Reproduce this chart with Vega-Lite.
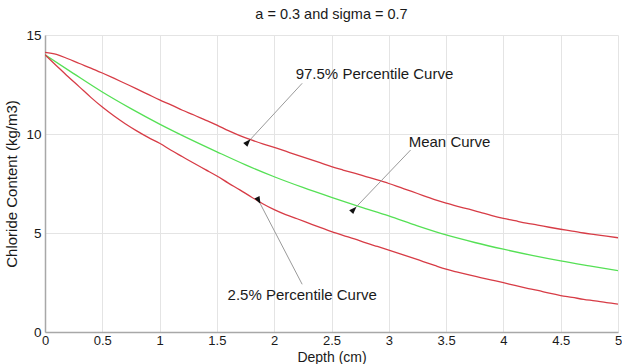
{
  "$schema": "https://vega.github.io/schema/vega-lite/v6.json",
  "width": 573,
  "height": 297,
  "autosize": {"type": "none"},
  "padding": {"left": 45, "top": 35, "right": 4, "bottom": 32},
  "background": "white",
  "config": {
    "view": {"stroke": null},
    "font": "Liberation Sans",
    "axis": {"labelFont": "Liberation Sans", "titleFont": "Liberation Sans", "labelColor": "#1a1a1a", "titleColor": "#1a1a1a", "titleFontWeight": "normal", "labelFontSize": 14, "titleFontSize": 15, "gridColor": "#e4e4e4", "gridWidth": 1, "domainColor": "#a8a8a8", "domainWidth": 1.5, "ticks": false}
  },
  "title": {"text": "a = 0.3 and sigma = 0.7", "font": "Liberation Sans", "fontSize": 14.5, "fontWeight": "normal", "color": "#1a1a1a", "offset": 6},
  "datasets": {
    "curves": [
      {"depth": 0, "value": 14.12, "series": "upper"},
      {"depth": 0.1, "value": 14.02, "series": "upper"},
      {"depth": 0.2, "value": 13.8, "series": "upper"},
      {"depth": 0.3, "value": 13.56, "series": "upper"},
      {"depth": 0.4, "value": 13.33, "series": "upper"},
      {"depth": 0.5, "value": 13.08, "series": "upper"},
      {"depth": 0.6, "value": 12.82, "series": "upper"},
      {"depth": 0.7, "value": 12.55, "series": "upper"},
      {"depth": 0.8, "value": 12.28, "series": "upper"},
      {"depth": 0.9, "value": 12.0, "series": "upper"},
      {"depth": 1.0, "value": 11.72, "series": "upper"},
      {"depth": 1.1, "value": 11.47, "series": "upper"},
      {"depth": 1.2, "value": 11.2, "series": "upper"},
      {"depth": 1.3, "value": 10.96, "series": "upper"},
      {"depth": 1.4, "value": 10.7, "series": "upper"},
      {"depth": 1.5, "value": 10.45, "series": "upper"},
      {"depth": 1.6, "value": 10.17, "series": "upper"},
      {"depth": 1.7, "value": 9.92, "series": "upper"},
      {"depth": 1.8, "value": 9.7, "series": "upper"},
      {"depth": 1.9, "value": 9.5, "series": "upper"},
      {"depth": 2.0, "value": 9.33, "series": "upper"},
      {"depth": 2.1, "value": 9.13, "series": "upper"},
      {"depth": 2.2, "value": 8.93, "series": "upper"},
      {"depth": 2.3, "value": 8.74, "series": "upper"},
      {"depth": 2.4, "value": 8.55, "series": "upper"},
      {"depth": 2.5, "value": 8.35, "series": "upper"},
      {"depth": 2.6, "value": 8.18, "series": "upper"},
      {"depth": 2.7, "value": 8.02, "series": "upper"},
      {"depth": 2.8, "value": 7.85, "series": "upper"},
      {"depth": 2.9, "value": 7.68, "series": "upper"},
      {"depth": 3.0, "value": 7.5, "series": "upper"},
      {"depth": 3.1, "value": 7.3, "series": "upper"},
      {"depth": 3.2, "value": 7.1, "series": "upper"},
      {"depth": 3.3, "value": 6.89, "series": "upper"},
      {"depth": 3.4, "value": 6.69, "series": "upper"},
      {"depth": 3.5, "value": 6.51, "series": "upper"},
      {"depth": 3.6, "value": 6.35, "series": "upper"},
      {"depth": 3.7, "value": 6.2, "series": "upper"},
      {"depth": 3.8, "value": 6.04, "series": "upper"},
      {"depth": 3.9, "value": 5.88, "series": "upper"},
      {"depth": 4.0, "value": 5.74, "series": "upper"},
      {"depth": 4.1, "value": 5.62, "series": "upper"},
      {"depth": 4.2, "value": 5.5, "series": "upper"},
      {"depth": 4.3, "value": 5.4, "series": "upper"},
      {"depth": 4.4, "value": 5.29, "series": "upper"},
      {"depth": 4.5, "value": 5.19, "series": "upper"},
      {"depth": 4.6, "value": 5.1, "series": "upper"},
      {"depth": 4.7, "value": 5.0, "series": "upper"},
      {"depth": 4.8, "value": 4.92, "series": "upper"},
      {"depth": 4.9, "value": 4.84, "series": "upper"},
      {"depth": 5.0, "value": 4.76, "series": "upper"},
      {"depth": 0, "value": 14.0, "series": "mean"},
      {"depth": 0.25, "value": 13.05, "series": "mean"},
      {"depth": 0.5, "value": 12.12, "series": "mean"},
      {"depth": 0.75, "value": 11.28, "series": "mean"},
      {"depth": 1.0, "value": 10.5, "series": "mean"},
      {"depth": 1.25, "value": 9.78, "series": "mean"},
      {"depth": 1.5, "value": 9.1, "series": "mean"},
      {"depth": 1.75, "value": 8.44, "series": "mean"},
      {"depth": 2.0, "value": 7.84, "series": "mean"},
      {"depth": 2.25, "value": 7.3, "series": "mean"},
      {"depth": 2.5, "value": 6.8, "series": "mean"},
      {"depth": 2.75, "value": 6.32, "series": "mean"},
      {"depth": 3.0, "value": 5.86, "series": "mean"},
      {"depth": 3.25, "value": 5.36, "series": "mean"},
      {"depth": 3.5, "value": 4.9, "series": "mean"},
      {"depth": 3.75, "value": 4.52, "series": "mean"},
      {"depth": 4.0, "value": 4.18, "series": "mean"},
      {"depth": 4.25, "value": 3.87, "series": "mean"},
      {"depth": 4.5, "value": 3.59, "series": "mean"},
      {"depth": 4.75, "value": 3.34, "series": "mean"},
      {"depth": 5.0, "value": 3.1, "series": "mean"},
      {"depth": 0, "value": 14.0, "series": "lower"},
      {"depth": 0.1, "value": 13.45, "series": "lower"},
      {"depth": 0.2, "value": 12.9, "series": "lower"},
      {"depth": 0.3, "value": 12.38, "series": "lower"},
      {"depth": 0.4, "value": 11.85, "series": "lower"},
      {"depth": 0.5, "value": 11.36, "series": "lower"},
      {"depth": 0.6, "value": 10.92, "series": "lower"},
      {"depth": 0.7, "value": 10.52, "series": "lower"},
      {"depth": 0.8, "value": 10.16, "series": "lower"},
      {"depth": 0.9, "value": 9.83, "series": "lower"},
      {"depth": 1.0, "value": 9.53, "series": "lower"},
      {"depth": 1.1, "value": 9.18, "series": "lower"},
      {"depth": 1.2, "value": 8.85, "series": "lower"},
      {"depth": 1.3, "value": 8.52, "series": "lower"},
      {"depth": 1.4, "value": 8.2, "series": "lower"},
      {"depth": 1.5, "value": 7.88, "series": "lower"},
      {"depth": 1.6, "value": 7.52, "series": "lower"},
      {"depth": 1.7, "value": 7.18, "series": "lower"},
      {"depth": 1.8, "value": 6.82, "series": "lower"},
      {"depth": 1.9, "value": 6.48, "series": "lower"},
      {"depth": 2.0, "value": 6.18, "series": "lower"},
      {"depth": 2.1, "value": 5.93, "series": "lower"},
      {"depth": 2.2, "value": 5.72, "series": "lower"},
      {"depth": 2.3, "value": 5.5, "series": "lower"},
      {"depth": 2.4, "value": 5.28, "series": "lower"},
      {"depth": 2.5, "value": 5.07, "series": "lower"},
      {"depth": 2.6, "value": 4.88, "series": "lower"},
      {"depth": 2.7, "value": 4.7, "series": "lower"},
      {"depth": 2.8, "value": 4.5, "series": "lower"},
      {"depth": 2.9, "value": 4.32, "series": "lower"},
      {"depth": 3.0, "value": 4.14, "series": "lower"},
      {"depth": 3.1, "value": 3.95, "series": "lower"},
      {"depth": 3.2, "value": 3.76, "series": "lower"},
      {"depth": 3.3, "value": 3.56, "series": "lower"},
      {"depth": 3.4, "value": 3.36, "series": "lower"},
      {"depth": 3.5, "value": 3.17, "series": "lower"},
      {"depth": 3.6, "value": 3.02, "series": "lower"},
      {"depth": 3.7, "value": 2.88, "series": "lower"},
      {"depth": 3.8, "value": 2.75, "series": "lower"},
      {"depth": 3.9, "value": 2.62, "series": "lower"},
      {"depth": 4.0, "value": 2.49, "series": "lower"},
      {"depth": 4.1, "value": 2.35, "series": "lower"},
      {"depth": 4.2, "value": 2.22, "series": "lower"},
      {"depth": 4.3, "value": 2.1, "series": "lower"},
      {"depth": 4.4, "value": 1.96, "series": "lower"},
      {"depth": 4.5, "value": 1.84, "series": "lower"},
      {"depth": 4.6, "value": 1.75, "series": "lower"},
      {"depth": 4.7, "value": 1.65, "series": "lower"},
      {"depth": 4.8, "value": 1.57, "series": "lower"},
      {"depth": 4.9, "value": 1.48, "series": "lower"},
      {"depth": 5.0, "value": 1.41, "series": "lower"}
    ],
    "notes": [
      {"label": "97.5% Percentile Curve", "tx": 2.875, "ty": 13.03, "x1": 2.244, "y1": 12.56, "x2": 1.793, "y2": 9.73},
      {"label": "Mean Curve", "tx": 3.53, "ty": 9.61, "x1": 3.19, "y1": 9.19, "x2": 2.718, "y2": 6.33},
      {"label": "2.5% Percentile Curve", "tx": 2.244, "ty": 1.87, "x1": 2.244, "y1": 2.41, "x2": 1.88, "y2": 6.46}
    ]
  },
  "layer": [
    {
      "data": {"name": "curves"},
      "mark": {"type": "line", "strokeWidth": 1.3, "interpolate": "monotone", "clip": true},
      "encoding": {
        "x": {"field": "depth", "type": "quantitative", "scale": {"domain": [0, 5], "nice": false, "zero": false}, "axis": {"values": [0, 0.5, 1, 1.5, 2, 2.5, 3, 3.5, 4, 4.5, 5], "format": "~g", "labelFontSize": 13, "labelPadding": 2, "labelFlush": false, "title": "Depth (cm)", "titleFontSize": 14, "titleBaseline": "bottom", "titleY": 32}},
        "y": {"field": "value", "type": "quantitative", "scale": {"domain": [0, 15], "nice": false}, "axis": {"values": [0, 5, 10, 15], "labelFontSize": 13.5, "labelPadding": 4, "title": "Chloride Content (kg/m3)", "titlePadding": 6}},
        "color": {"field": "series", "type": "nominal", "scale": {"domain": ["upper", "mean", "lower"], "range": ["#d73c46", "#55e055", "#d73c46"]}, "legend": null},
        "detail": {"field": "series"}
      }
    },
    {
      "data": {"name": "notes"},
      "mark": {"type": "rule", "color": "#9a9a9a", "strokeWidth": 1},
      "encoding": {
        "x": {"field": "x1", "type": "quantitative"},
        "y": {"field": "y1", "type": "quantitative"},
        "x2": {"field": "x2"},
        "y2": {"field": "y2"}
      }
    },
    {
      "data": {"name": "notes"},
      "transform": [{"filter": "datum.label === '97.5% Percentile Curve'"}],
      "mark": {"type": "point", "shape": "M0,0L-0.45,1.2L0.45,1.2Z", "filled": true, "color": "#111", "opacity": 1, "size": 160, "angle": 43},
      "encoding": {"x": {"field": "x2", "type": "quantitative"}, "y": {"field": "y2", "type": "quantitative"}}
    },
    {
      "data": {"name": "notes"},
      "transform": [{"filter": "datum.label === 'Mean Curve'"}],
      "mark": {"type": "point", "shape": "M0,0L-0.45,1.2L0.45,1.2Z", "filled": true, "color": "#111", "opacity": 1, "size": 160, "angle": 44},
      "encoding": {"x": {"field": "x2", "type": "quantitative"}, "y": {"field": "y2", "type": "quantitative"}}
    },
    {
      "data": {"name": "notes"},
      "transform": [{"filter": "datum.label === '2.5% Percentile Curve'"}],
      "mark": {"type": "point", "shape": "M0,0L-0.45,1.2L0.45,1.2Z", "filled": true, "color": "#111", "opacity": 1, "size": 160, "angle": 153},
      "encoding": {"x": {"field": "x2", "type": "quantitative"}, "y": {"field": "y2", "type": "quantitative"}}
    },
    {
      "data": {"name": "notes"},
      "mark": {"type": "text", "font": "Liberation Sans", "fontSize": 15, "color": "#1a1a1a", "align": "center", "baseline": "middle"},
      "encoding": {
        "x": {"field": "tx", "type": "quantitative"},
        "y": {"field": "ty", "type": "quantitative"},
        "text": {"field": "label"}
      }
    }
  ]
}
